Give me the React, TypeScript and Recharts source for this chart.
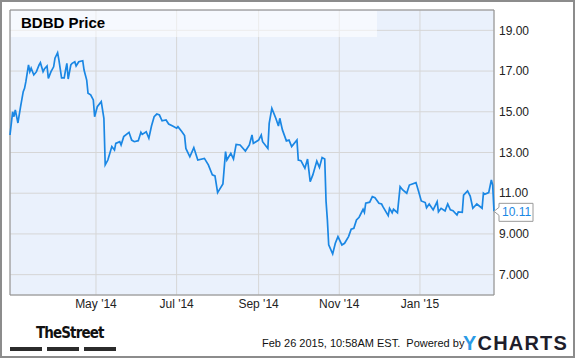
import React from 'react';
import {
    LineChart,
    Line,
    XAxis,
    YAxis,
    CartesianGrid,
    ReferenceArea,
    ReferenceDot,
} from 'recharts';

const dates = [
    '2014-02-25', '2014-02-27', '2014-02-28', '2014-03-01', '2014-03-03', '2014-03-05', '2014-03-07',
    '2014-03-08', '2014-03-09', '2014-03-11', '2014-03-12', '2014-03-13', '2014-03-15', '2014-03-17',
    '2014-03-19', '2014-03-20', '2014-03-22', '2014-03-23', '2014-03-25', '2014-03-26', '2014-03-28',
    '2014-03-30', '2014-03-31', '2014-04-02', '2014-04-03', '2014-04-05', '2014-04-07', '2014-04-08',
    '2014-04-09', '2014-04-10', '2014-04-12', '2014-04-13', '2014-04-15', '2014-04-16', '2014-04-18',
    '2014-04-21', '2014-04-22', '2014-04-24', '2014-04-25', '2014-04-27', '2014-04-29', '2014-04-30',
    '2014-05-02', '2014-05-05', '2014-05-07', '2014-05-08', '2014-05-10', '2014-05-13', '2014-05-15',
    '2014-05-16', '2014-05-19', '2014-05-20', '2014-05-22', '2014-05-26', '2014-05-28', '2014-05-30',
    '2014-06-02', '2014-06-04', '2014-06-05', '2014-06-08', '2014-06-10', '2014-06-12', '2014-06-14',
    '2014-06-16', '2014-06-18', '2014-06-20', '2014-06-23', '2014-06-25', '2014-06-28', '2014-07-01',
    '2014-07-02', '2014-07-05', '2014-07-07', '2014-07-08', '2014-07-11', '2014-07-14', '2014-07-17',
    '2014-07-22', '2014-07-25', '2014-07-28', '2014-07-30', '2014-08-01', '2014-08-05', '2014-08-07',
    '2014-08-08', '2014-08-11', '2014-08-13', '2014-08-15', '2014-08-18', '2014-08-22', '2014-08-25',
    '2014-08-27', '2014-08-28', '2014-09-01', '2014-09-03', '2014-09-04', '2014-09-08', '2014-09-09',
    '2014-09-11', '2014-09-14', '2014-09-16', '2014-09-17', '2014-09-19', '2014-09-22', '2014-09-24',
    '2014-09-26', '2014-09-30', '2014-10-01', '2014-10-03', '2014-10-06', '2014-10-08', '2014-10-10',
    '2014-10-12', '2014-10-15', '2014-10-17', '2014-10-19', '2014-10-21', '2014-10-22', '2014-10-23',
    '2014-10-24', '2014-10-27', '2014-10-29', '2014-10-31', '2014-11-03', '2014-11-05', '2014-11-08',
    '2014-11-10', '2014-11-12', '2014-11-14', '2014-11-16', '2014-11-19', '2014-11-20', '2014-11-21',
    '2014-11-24', '2014-11-26', '2014-11-28', '2014-12-01', '2014-12-03', '2014-12-04', '2014-12-08',
    '2014-12-09', '2014-12-11', '2014-12-12', '2014-12-15', '2014-12-17', '2014-12-19', '2014-12-22',
    '2014-12-24', '2014-12-29', '2014-12-31', '2015-01-02', '2015-01-05', '2015-01-06', '2015-01-08',
    '2015-01-11', '2015-01-14', '2015-01-15', '2015-01-17', '2015-01-20', '2015-01-22', '2015-01-24',
    '2015-01-26', '2015-01-29', '2015-01-30', '2015-02-02', '2015-02-03', '2015-02-06', '2015-02-08',
    '2015-02-10', '2015-02-13', '2015-02-17', '2015-02-18', '2015-02-19', '2015-02-22', '2015-02-24',
    '2015-02-25', '2015-02-26',
];

const prices = [
    13.86, 15.0, 14.76, 15.09, 14.45, 15.25, 15.99,
    16.15, 16.48, 17.3, 16.97, 17.14, 16.81, 16.97,
    17.3, 17.41, 16.97, 17.1, 17.25, 16.64, 16.97,
    17.21, 17.63, 17.9, 17.54, 16.67, 16.67, 17.05,
    17.38, 16.61, 17.3, 17.38, 17.46, 17.25, 17.46,
    17.51, 17.05, 16.56, 15.91, 15.83, 15.58, 14.76,
    15.25, 15.5, 14.68, 12.39, 12.63, 13.29, 13.12,
    13.45, 13.53, 13.37, 13.78, 13.99, 13.61, 13.53,
    13.58, 13.99, 13.89, 14.02, 13.7, 14.3, 14.76,
    14.89, 14.84, 14.56, 14.6, 14.4, 14.3, 14.19,
    14.27, 14.02, 13.83, 13.2, 12.79, 13.24, 12.63,
    12.71, 12.39, 11.9, 11.85, 11.03, 11.45, 13.04,
    12.63, 12.96, 12.68, 13.4, 13.37, 13.07, 13.37,
    13.86, 13.45, 13.61, 13.86, 13.53, 13.2, 14.43,
    15.17, 14.68, 14.3, 14.68, 14.11, 13.57, 13.61,
    13.29, 13.61, 12.63, 12.6, 12.23, 12.68, 11.57,
    11.9, 12.58, 12.27, 12.75, 12.68, 10.6, 9.69,
    8.46, 8.02, 8.54, 8.87, 8.46, 8.54, 8.87,
    9.23, 9.28, 9.69, 9.82, 10.21, 10.06, 10.51,
    10.56, 10.83, 10.78, 10.51, 10.47, 10.34, 9.9,
    10.26, 10.04, 10.21, 10.04, 11.32, 11.16, 11.0,
    11.4, 11.52, 11.08, 10.62, 10.54, 10.29, 10.47,
    10.18, 10.58, 10.09, 10.26, 10.13, 10.47, 10.18,
    10.14, 9.93, 10.08, 10.06, 10.91, 11.11, 10.86,
    10.26, 10.47, 10.26, 11.0, 10.95, 11.03, 11.65,
    11.4, 10.11,
];

const monthTicks = ['2014-05-01', '2014-07-01', '2014-09-01', '2014-11-01', '2015-01-01'];
const monthLabels = ["May '14", "Jul '14", "Sep '14", "Nov '14", "Jan '15"];

const priceTicks = [7, 9, 11, 13, 15, 17, 19];
const priceLabels = ['7.000', '9.000', '11.00', '13.00', '15.00', '17.00', '19.00'];

const data = dates.map((d, i) => ({ t: Date.parse(d), price: prices[i] }));
const xTicks = monthTicks.map((d) => Date.parse(d));
const first = data[0].t;
const last = data[data.length - 1].t;
const lastPrice = prices[prices.length - 1];

const FONT = '"Liberation Sans", Arial, sans-serif';
const BLUE = '#1a87e4';

const Callout = (props: any) => {
    const { cx, cy } = props;
    if (cx == null || cy == null) return null;
    const path = `M${cx},${cy} L${cx + 5},${cy - 4} L${cx + 5},${cy - 8} L${cx + 39},${cy - 8} L${cx + 39},${cy + 10} L${cx + 5},${cy + 10} L${cx + 5},${cy + 4} Z`;
    return (
        <g>
            <path d={path} fill="#ffffff" stroke="#9a9a9a" strokeWidth={1} />
            <text x={cx + 8} y={cy + 5} fontSize={12} fontFamily={FONT} fill={BLUE}>
                {lastPrice.toFixed(2)}
            </text>
        </g>
    );
};

export default function App() {
    return (
        <div style={{ position: 'absolute', left: 0, top: 0, width: 575, height: 358, background: '#fff', fontFamily: FONT }}>
            <LineChart width={575} height={358} data={data} margin={{ top: 10, right: 6, bottom: 0, left: 10 }}>
                <CartesianGrid stroke="#d6d6d6" fill="#eaf1fc" fillOpacity={1} />
                <XAxis
                    dataKey="t"
                    type="number"
                    scale="time"
                    domain={[first, last]}
                    ticks={xTicks}
                    tickFormatter={(v: number) => monthLabels[xTicks.indexOf(v)] ?? ''}
                    height={63}
                    axisLine={false}
                    tickLine={false}
                    tickSize={2}
                    tickMargin={2}
                    tick={{ fill: '#222', fontSize: 12, fontFamily: FONT }}
                />
                <YAxis
                    orientation="right"
                    domain={[6, 20]}
                    ticks={priceTicks}
                    tickFormatter={(v: number) => priceLabels[priceTicks.indexOf(v)] ?? ''}
                    width={75}
                    axisLine={false}
                    tickLine={false}
                    tickSize={3}
                    tickMargin={2}
                    tick={{ fill: '#222', fontSize: 12, fontFamily: FONT, textAnchor: 'start' }}
                />
                <ReferenceArea x1={first} x2={last} y1={6} y2={20} fill="none" stroke="#8c8c8c" strokeWidth={1} ifOverflow="visible" />
                <Line
                    type="linear"
                    dataKey="price"
                    stroke={BLUE}
                    strokeWidth={1.7}
                    dot={false}
                    activeDot={false}
                    isAnimationActive={false}
                />
                <ReferenceDot x={last} y={lastPrice} r={0} ifOverflow="visible" shape={Callout} />
            </LineChart>

            {/* title band */}
            <div
                style={{
                    position: 'absolute',
                    left: 11,
                    top: 11,
                    width: 366,
                    height: 26,
                    background: 'rgba(255,255,255,0.55)',
                    fontSize: 15,
                    fontWeight: 'bold',
                    color: '#000',
                    lineHeight: '24px',
                    paddingLeft: 10,
                    boxSizing: 'border-box',
                }}
            >
                BDBD Price
            </div>

            {/* footer */}
            <div
                style={{
                    position: 'absolute',
                    left: 36,
                    top: 324,
                    fontFamily: '"DejaVu Sans Condensed", "DejaVu Sans", sans-serif',
                    fontWeight: 'bold',
                    fontSize: 15,
                    letterSpacing: -0.9,
                    color: '#111',
                }}
            >
                TheStreet
            </div>
            <div style={{ position: 'absolute', left: 10, top: 347, width: 32, height: 4, background: '#2b2b2b' }} />
            <div style={{ position: 'absolute', left: 47, top: 347, width: 32, height: 4, background: '#2b2b2b' }} />
            <div style={{ position: 'absolute', left: 84, top: 347, width: 32, height: 4, background: '#2b2b2b' }} />

            <div style={{ position: 'absolute', left: 262, top: 337, fontSize: 11, color: '#111', whiteSpace: 'pre' }}>
                Feb 26 2015, 10:58AM EST.  Powered by
            </div>
            <div
                style={{
                    position: 'absolute',
                    left: 463,
                    top: 332,
                    fontSize: 20,
                    fontWeight: 'bold',
                    letterSpacing: 1.2,
                    color: '#1e1e2c',
                    whiteSpace: 'pre',
                }}
            >
                <span style={{ color: '#2a9be6' }}>Y</span>CHARTS
            </div>

            {/* outer frame */}
            <div
                style={{
                    position: 'absolute',
                    left: 0,
                    top: 0,
                    width: 575,
                    height: 358,
                    border: '2px solid #8c8c8c',
                    boxSizing: 'border-box',
                    pointerEvents: 'none',
                }}
            />
        </div>
    );
}
